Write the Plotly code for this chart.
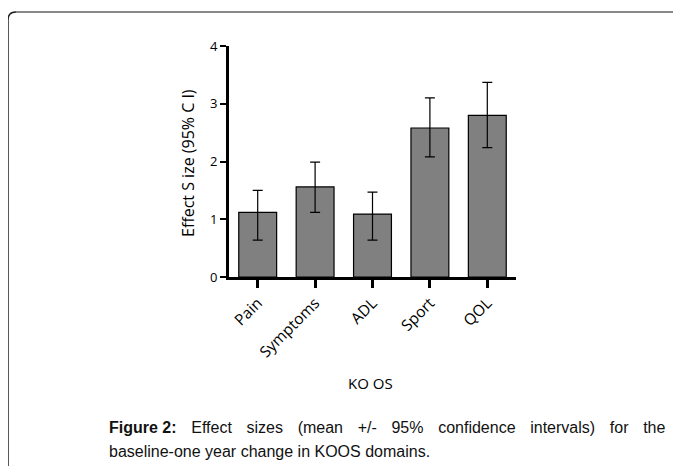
import plotly.graph_objects as go

categories = ["Pain", "Symptoms", "ADL", "Sport", "QOL"]
effect_size = [1.12, 1.56, 1.09, 2.58, 2.80]
ci_upper = [1.50, 1.99, 1.47, 3.10, 3.37]
ci_lower = [0.64, 1.12, 0.64, 2.08, 2.24]
y_ticks = [0, 1, 2, 3, 4]

SW, SH = 681, 466   # screenshot size
OFF = 8             # page body margin
W, H = SW - OFF, SH - OFF
L, R, T, B = 229, 516, 46, 277  # plot area pixels in the screenshot


def px(x):
    return (x - L) / (R - L)


def py(y):
    return (B - y) / (B - T)


err_plus = [u - v for u, v in zip(ci_upper, effect_size)]
err_minus = [v - l for v, l in zip(effect_size, ci_lower)]

fig = go.Figure()
fig.add_trace(go.Bar(
    x=categories, y=effect_size,
    marker=dict(color="#808080", line=dict(color="#000000", width=1.2)),
    error_y=dict(type="data", array=err_plus, arrayminus=err_minus,
                 color="#000000", thickness=1.2, width=5),
    width=0.66,
))

tickfont = dict(family="Open Sans, Noto Sans, sans-serif", size=15.5, color="#000")

fig.update_layout(
    width=W, height=H,
    margin=dict(l=L - OFF, r=SW - R, t=T - OFF, b=SH - B, pad=0),
    paper_bgcolor="white", plot_bgcolor="white",
    showlegend=False,
    xaxis=dict(range=[-0.5, 4.5], showgrid=False, zeroline=False,
               showline=True, linecolor="#000", linewidth=3,
               ticks="outside", ticklen=8, tickwidth=3, tickcolor="#000",
               tickangle=-45, tickfont=tickfont),
    yaxis=dict(range=[0, 4], tickvals=y_ticks, showgrid=False, zeroline=False,
               showline=True, linecolor="#000", linewidth=3,
               ticks="outside", ticklen=6, tickwidth=2, tickcolor="#000",
               tickfont=dict(family="Open Sans, Noto Sans, sans-serif", size=13, color="#000")),
)

# Frame around figure (rounded top-left corner)
fig.add_shape(type="path", xref="paper", yref="paper",
              path=f"M {px(8)} {py(480)} L {px(8)} {py(20)} Q {px(8)} {py(12)} {px(16)} {py(12)}",
              line=dict(color="#222222", width=1.5))
fig.add_shape(type="line", xref="paper", yref="paper",
              x0=px(16), y0=py(12), x1=px(700), y1=py(12),
              line=dict(color="#888888", width=1.8))

# Axis titles
fig.add_annotation(xref="paper", yref="paper", x=px(188), y=py(163),
                   text="Effect S ize (95% C I)", textangle=-90, showarrow=False,
                   font=dict(family="Open Sans, Noto Sans, sans-serif", size=16, color="#000"),
                   xanchor="center", yanchor="middle")
fig.add_annotation(xref="paper", yref="paper", x=px(370), y=py(383),
                   text="KO OS", showarrow=False,
                   font=dict(family="Open Sans, Noto Sans, sans-serif", size=15, color="#000"),
                   xanchor="center", yanchor="middle")

# Caption
sp = " \u00a0\u00a0\u200a"
line1 = sp.join(["<b>Figure\u00a02:</b>", "Effect", "sizes", "(mean", "+/-", "95%",
                 "confidence", "intervals)", "for", "the"])
capfont = dict(family="Liberation Sans, Arial, sans-serif", size=16, color="#111")
fig.add_annotation(xref="paper", yref="paper", x=px(107), y=py(427),
                   text=line1, showarrow=False, font=capfont,
                   xanchor="left", yanchor="middle")
fig.add_annotation(xref="paper", yref="paper", x=px(107), y=py(451),
                   text="baseline-one year change in KOOS domains.", showarrow=False,
                   font=capfont, xanchor="left", yanchor="middle")

fig.write_html("out.html", config={"displayModeBar": False})
